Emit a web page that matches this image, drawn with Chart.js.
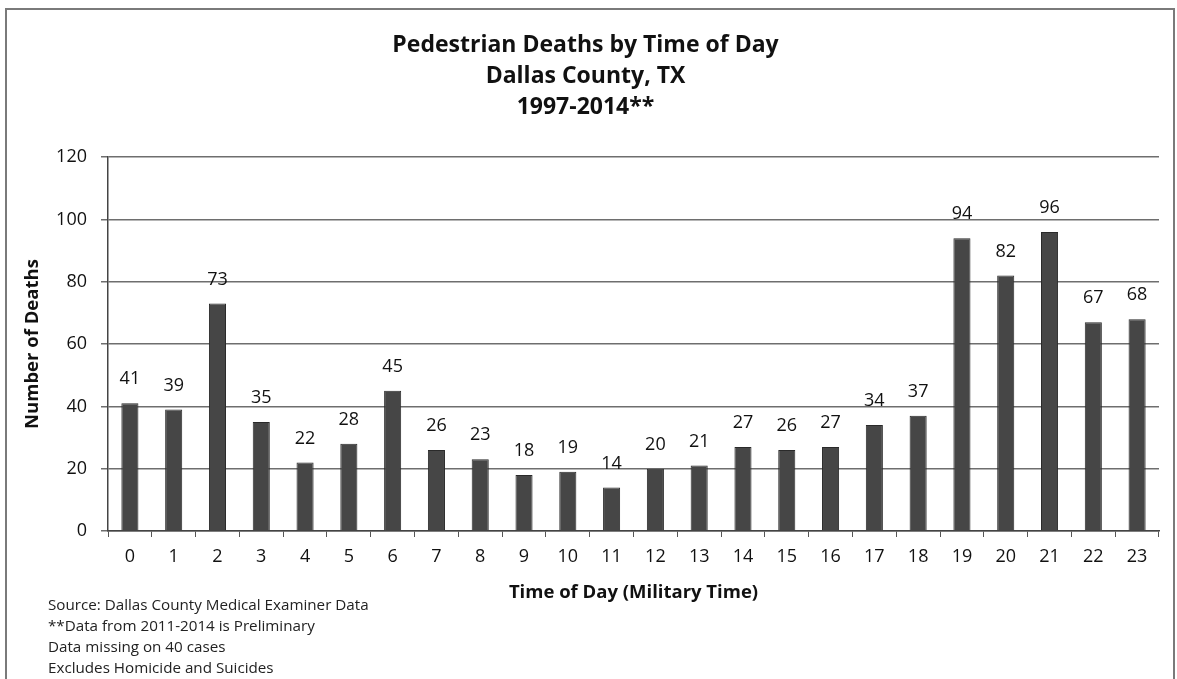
<!DOCTYPE html>
<html>
<head>
<meta charset="utf-8">
<title>Pedestrian Deaths by Time of Day</title>
<script src="https://cdn.jsdelivr.net/npm/chart.js@4.4.1/dist/chart.umd.min.js"></script>
<style>
  html, body { margin:0; padding:0; background:#fff; }
  canvas { display:block; }
</style>
</head>
<body>
<canvas id="deathsChart" width="1177" height="679"></canvas>
<script>
// hours of the day (military time) and deaths per hour
const hours = ['0','1','2','3','4','5','6','7','8','9','10','11','12','13','14','15','16','17','18','19','20','21','22','23'];
const deaths = [41,39,73,35,22,28,45,26,23,18,19,14,20,21,27,26,27,34,37,94,82,96,67,68];
const yTicks = [0,20,40,60,80,100,120];
const titleLines = ['Pedestrian Deaths by Time of Day', 'Dallas County, TX', '1997-2014**'];
const footnotes = [
  'Source: Dallas County Medical Examiner Data',
  '**Data from 2011-2014 is Preliminary',
  'Data missing on 40 cases',
  'Excludes Homicide and Suicides'
];

const FONT = '"Open Sans", "Noto Sans", sans-serif';

// frame around the whole chart + footnote block
const framePlugin = {
  id: 'frame',
  beforeDraw(chart){
    const c = chart.ctx;
    c.save();
    c.fillStyle = '#fff';
    c.fillRect(0, 0, chart.width, chart.height);
    c.strokeStyle = '#7a7a7a';
    c.lineWidth = 2;
    c.strokeRect(6, 9, chart.width - 9, chart.height + 10);
    c.restore();
  },
  afterDraw(chart){
    const c = chart.ctx;
    c.save();
    c.fillStyle = '#222';
    c.font = '15.2px ' + FONT;
    c.textAlign = 'left';
    c.textBaseline = 'middle';
    footnotes.forEach((t, i) => c.fillText(t, 48, 606 + i * 21));
    c.restore();
  }
};

// value labels above each bar
const valueLabels = {
  id: 'valueLabels',
  afterDatasetsDraw(chart){
    const c = chart.ctx;
    const meta = chart.getDatasetMeta(0);
    c.save();
    c.fillStyle = '#111';
    c.font = '18px ' + FONT;
    c.textAlign = 'center';
    c.textBaseline = 'middle';
    meta.data.forEach((bar, i) => {
      c.fillText(String(deaths[i]), bar.x, bar.y - 24);
    });
    c.restore();
  }
};

new Chart(document.getElementById('deathsChart'), {
  type: 'bar',
  data: {
    labels: hours,
    datasets: [{
      data: deaths,
      backgroundColor: '#464646',
      borderColor: '#2a2a2a',
      borderWidth: 1,
      categoryPercentage: 1,
      barPercentage: 0.39
    }]
  },
  options: {
    responsive: false,
    animation: false,
    layout: { padding: { top: 20, left: 12, right: 18, bottom: 0 } },
    plugins: {
      legend: { display: false },
      tooltip: { enabled: false },
      title: {
        display: true,
        text: titleLines,
        color: '#111',
        font: { family: FONT, size: 23, weight: 'bold', lineHeight: 1.35 },
        padding: { top: 10, bottom: 34 }
      }
    },
    scales: {
      x: {
        afterFit: s => { s.height = 148; },
        grid: { drawOnChartArea: false, drawTicks: true, tickLength: 6, color: '#555', offset: true },
        border: { color: '#444', width: 1.5 },
        ticks: { color: '#111', font: { family: FONT, size: 18 }, padding: 9, maxRotation: 0 },
        title: {
          display: true,
          text: 'Time of Day (Military Time)',
          color: '#111',
          font: { family: FONT, size: 18.5, weight: 'bold' },
          padding: { top: 0, bottom: 75 }
        }
      },
      y: {
        min: 0,
        max: 120,
        afterFit: s => { s.width = 96; },
        afterBuildTicks: s => { s.ticks = yTicks.map(v => ({ value: v })); },
        grid: { color: '#6e6e6e', lineWidth: 1.5, tickLength: 7 },
        border: { color: '#444', width: 1.5 },
        ticks: { color: '#111', font: { family: FONT, size: 18 }, padding: 14 },
        title: {
          display: true,
          text: 'Number of Deaths',
          color: '#111',
          font: { family: FONT, size: 18.5, weight: 'bold' },
          padding: { top: 10, bottom: 0 }
        }
      }
    }
  },
  plugins: [framePlugin, valueLabels]
});
</script>
</body>
</html>
